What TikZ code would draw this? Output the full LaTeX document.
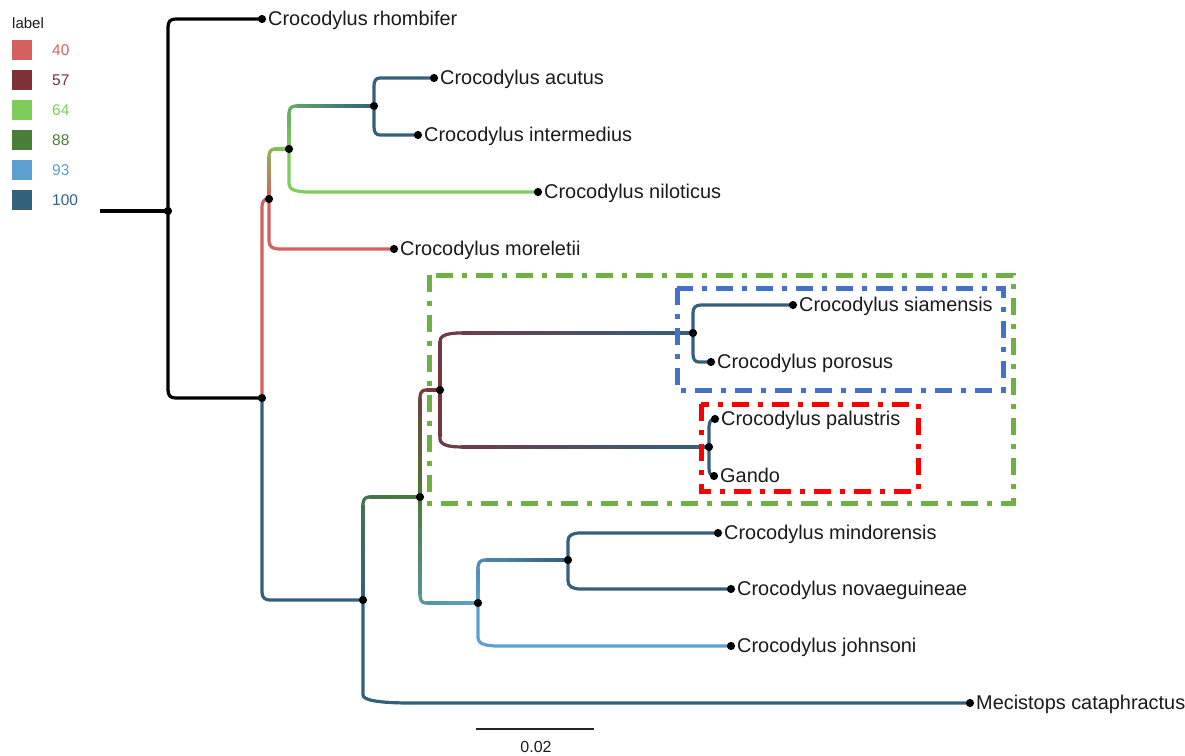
\documentclass[tikz,border=0pt]{standalone}
\usepackage{fontspec}
\setmainfont{Liberation Sans}
\definecolor{c40}{RGB}{214,96,96}
\definecolor{c57}{RGB}{125,50,55}
\definecolor{c64}{RGB}{124,205,90}
\definecolor{c88}{RGB}{74,125,55}
\definecolor{c93}{RGB}{92,160,208}
\definecolor{c100}{RGB}{52,96,126}
\definecolor{boxgreen}{RGB}{110,176,66}
\definecolor{boxblue}{RGB}{68,114,200}
\definecolor{boxred}{RGB}{250,0,0}
\definecolor{txt}{RGB}{26,26,26}
% branch geometry
\newcommand\brsetup[2]{%
 \pgfpointanchor{#1}{center}\pgfgetlastxy{\bqtx}{\bqty}%
 \pgfmathsetmacro\bqpX{\bqtx}\pgfmathsetmacro\bqpY{\bqty}%
 \pgfpointanchor{#2}{center}\pgfgetlastxy{\bqtx}{\bqty}%
 \pgfmathsetmacro\bqcX{\bqtx}\pgfmathsetmacro\bqcY{\bqty}%
 \pgfmathsetmacro\bqV{abs(\bqcY-\bqpY)}%
 \pgfmathsetmacro\bqH{\bqcX-\bqpX}%
 \pgfmathsetmacro\bqsg{(\bqcY>\bqpY)?1:-1}%
 \pgfmathsetmacro\bqry{min(\bqV,8)}%
 \pgfmathsetmacro\bqrx{min(\bqH,max(6,0.08*\bqH))}%
 \pgfmathsetmacro\bqyq{\bqcY-\bqsg*\bqry}%
 \pgfmathsetmacro\bqxq{\bqpX+\bqrx}%
}
\newcommand\ubr[3]{\brsetup{#1}{#2}%
 \pgfmathsetmacro\bqya{\bqyq+\bqsg*\bqry*2/3}%
 \pgfmathsetmacro\bqxb{\bqpX+\bqrx/3}%
 \draw[br,#3] (#1) -- (\bqpX pt,\bqyq pt) .. controls (\bqpX pt,\bqya pt) and (\bqxb pt,\bqcY pt) .. (\bqxq pt,\bqcY pt) -- (#2);%
}
\newcommand\gpt[3]{%
 \pgfmathsetmacro\bqtq{min(max((#1-\bqLa)/\bqLc,0),1)}%
 \pgfmathsetmacro#2{(#1<\bqLa)?\bqpX:((#1<\bqLb)?(\bqpX+\bqtq*\bqtq*\bqrx):(\bqpX+\bqrx+#1-\bqLb))}%
 \pgfmathsetmacro#3{(#1<\bqLa)?(\bqpY+\bqsg*#1):((#1<\bqLb)?(\bqcY-\bqsg*\bqry*(1-\bqtq)*(1-\bqtq)):\bqcY)}%
}
\newcommand\gbr[4]{\brsetup{#1}{#2}%
 \pgfmathsetmacro\bqLa{\bqV-\bqry}%
 \pgfmathsetmacro\bqLc{0.8*(\bqrx+\bqry)}%
 \pgfmathsetmacro\bqLb{\bqLa+\bqLc}%
 \pgfmathsetmacro\bqLt{\bqLb+\bqH-\bqrx}%
 \foreach \bqi in {1,...,70}{%
   \pgfmathsetmacro\bqsA{(\bqi-1)*(\bqLt/70)}%
   \pgfmathsetmacro\bqsB{\bqi*(\bqLt/70)}%
   \gpt{\bqsA}{\bqxa}{\bqyaa}\gpt{\bqsB}{\bqxbb}{\bqybb}%
   \pgfmathtruncatemacro\bqpc{round(100*((\bqi-0.5)/70))}%
   \draw[gseg,#4!\bqpc!#3] (\bqxa pt,\bqyaa pt) -- (\bqxbb pt,\bqybb pt);}%
}
\begin{document}
\begin{tikzpicture}[x=1pt,y=-1pt,
  br/.style={line width=3.2pt},
  gseg/.style={line width=3.2pt,line cap=round},
  lab/.style={anchor=west,inner sep=0pt,text height=0.72em,text depth=0pt,
    font=\fontsize{19.9}{23}\selectfont,text=txt,xshift=6pt,yshift=-2.5pt},
  legnum/.style={anchor=west,inner sep=0pt,text height=0.72em,text depth=0pt,
    font=\fontsize{15.5}{18}\selectfont},
  dashbox/.style={line width=5pt,dash pattern=on 17pt off 9pt on 5pt off 9pt}]
\useasboundingbox (0,0) rectangle (1185,755);
% coordinates
\coordinate (stub) at (100,211);
\coordinate (root) at (168,211);
\coordinate (rho) at (262,19);
\coordinate (A) at (262,398);
\coordinate (B) at (269,199);
\coordinate (D) at (289,149);
\coordinate (E) at (374,106);
\coordinate (acu) at (434,78);
\coordinate (inm) at (418,135);
\coordinate (nil) at (538,192);
\coordinate (mor) at (394,249);
\coordinate (C) at (363,600);
\coordinate (F) at (420,497);
\coordinate (G) at (440,390);
\coordinate (I) at (693,333);
\coordinate (sia) at (793,305);
\coordinate (por) at (711,362);
\coordinate (J) at (709,447);
\coordinate (pal) at (715,419);
\coordinate (gan) at (714,476);
\coordinate (H) at (478,603);
\coordinate (K) at (568,560);
\coordinate (tmin) at (718,533);
\coordinate (nov) at (731,589);
\coordinate (joh) at (731,646);
\coordinate (mec) at (970,703);
% branches
\draw[br,black] (stub) -- (root);
\ubr{root}{rho}{black}
\ubr{root}{A}{black}
\ubr{A}{B}{c40}
\ubr{B}{mor}{c40}
\ubr{D}{nil}{c64}
\ubr{E}{acu}{c100}
\ubr{E}{inm}{c100}
\ubr{A}{C}{c100}
\ubr{C}{mec}{c100}
\ubr{I}{sia}{c100}
\ubr{I}{por}{c100}
\ubr{J}{pal}{c100}
\ubr{J}{gan}{c100}
\ubr{H}{joh}{c93}
\ubr{K}{tmin}{c100}
\ubr{K}{nov}{c100}
\gbr{B}{D}{c40}{c64}
\gbr{D}{E}{c64}{c100}
\gbr{C}{F}{c100}{c88}
\gbr{F}{G}{c88}{c57}
\gbr{F}{H}{c88}{c93}
\gbr{G}{I}{c57}{c100}
\gbr{G}{J}{c57}{c100}
\gbr{H}{K}{c93}{c100}
% dots
\foreach \n in {root,rho,A,B,D,E,acu,inm,nil,mor,C,F,G,I,sia,por,J,pal,gan,H,K,tmin,nov,joh,mec}
  \fill[black] (\n) circle (4.1pt);
% labels
\node[lab] (Lrho) at (rho) {Crocodylus rhombifer};
\node[lab] (Lacu) at (acu) {Crocodylus acutus};
\node[lab] (Linm) at (inm) {Crocodylus intermedius};
\node[lab] (Lnil) at (nil) {Crocodylus niloticus};
\node[lab] (Lmor) at (mor) {Crocodylus moreletii};
\node[lab] (Lsia) at (sia) {Crocodylus siamensis};
\node[lab] (Lpor) at (por) {Crocodylus porosus};
\node[lab] (Lpal) at (pal) {Crocodylus palustris};
\node[lab] (Lgan) at (gan) {Gando};
\node[lab] (Lmin) at (tmin) {Crocodylus mindorensis};
\node[lab] (Lnov) at (nov) {Crocodylus novaeguineae};
\node[lab] (Ljoh) at (joh) {Crocodylus johnsoni};
\node[lab] (Lmec) at (mec) {Mecistops cataphractus};
% highlight boxes
\draw[dashbox,boxgreen] (429,275) rectangle (1013,503);
\draw[dashbox,boxblue] (677,288) rectangle (1003,390);
\draw[dashbox,boxred] (701,404) rectangle (918,491);
% legend
\node[anchor=base west,inner sep=0pt,font=\fontsize{15}{18}\selectfont,text=txt] (legtitle) at (12,28) {label};
\foreach \c/\v [count=\k from 0] in {c40/40,c57/57,c64/64,c88/88,c93/93,c100/100}{
  \fill[\c] (12,40+30*\k) rectangle (32,60+30*\k);
  \node[legnum,text=\c] (leg\v) at (52,51.5+30*\k) {\v};
}
% scale bar
\coordinate (sbl) at (476,729);
\coordinate (sbr) at (594,729);
\draw[line width=2pt,color=black!85] (sbl) -- (sbr);
\node[anchor=base,inner sep=0pt,font=\fontsize{16}{19}\selectfont,text=txt] (sblab) at (536,752) {0.02};
\end{tikzpicture}
\end{document}
